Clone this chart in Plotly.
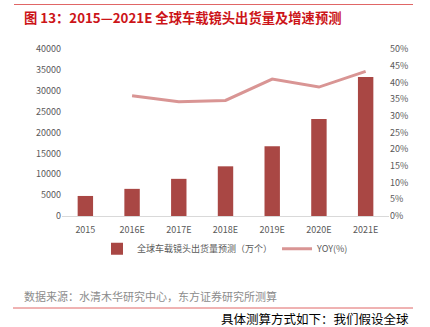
import plotly.graph_objects as go

categories = ["2015", "2016E", "2017E", "2018E", "2019E", "2020E", "2021E"]
shipments = [4800, 6500, 8900, 11900, 16700, 23250, 33300]
yoy_cats = ["2016E", "2017E", "2018E", "2019E", "2020E", "2021E"]
yoy = [36.0, 34.2, 34.6, 41.0, 38.6, 43.3]
left_ticks = [0, 5000, 10000, 15000, 20000, 25000, 30000, 35000, 40000]
right_ticks = [0, 5, 10, 15, 20, 25, 30, 35, 40, 45, 50]

BAR = "#A94744"
LINE = "#D99594"
FONT = "Noto Sans CJK SC"

fig = go.Figure()
fig.add_trace(go.Bar(x=categories, y=shipments, name="全球车载镜头出货量预测（万个）",
                     marker=dict(color=BAR, line=dict(width=0)), yaxis="y"))
fig.add_trace(go.Scatter(x=yoy_cats, y=yoy, name="YOY(%)", mode="lines",
                         line=dict(color=LINE, width=3), yaxis="y2"))

fig.update_layout(
    width=430, height=327,
    margin=dict(l=62, r=41, t=49, b=111),
    paper_bgcolor="white", plot_bgcolor="white",
    font=dict(family=FONT, size=9, color="#595959"),
    bargap=0.67,
    showlegend=True,
    legend=dict(orientation="h", x=0.5, xanchor="center", y=-0.11, yanchor="top",
                font=dict(size=9, color="#595959"), itemwidth=30, traceorder="normal"),
    xaxis=dict(type="category", showline=True, linecolor="#D9D9D9", linewidth=1,
               ticks="", showgrid=False, ticklabelstandoff=5,
               tickfont=dict(size=9, color="#595959")),
    yaxis=dict(range=[0, 40000], tickvals=left_ticks, ticktext=[str(v) for v in left_ticks],
               showgrid=False, zeroline=False,
               showline=False, ticks="", tickfont=dict(size=9, color="#595959")),
    yaxis2=dict(range=[0, 50], tickvals=right_ticks, ticktext=[f"{v}%" for v in right_ticks],
                overlaying="y", side="right", showgrid=False, zeroline=False,
                showline=False, ticks="", tickfont=dict(size=9, color="#595959")),
)

# decorative lines in pixel-derived paper coordinates
pw, ph = 327.0, 167.0
def px(x):
    return (x - 62) / pw
def py(y):
    return (216 - y) / ph

fig.add_shape(type="line", xref="paper", yref="paper", x0=px(14), x1=px(413),
              y0=py(4.5), y1=py(4.5), line=dict(color="#E06666", width=1))
fig.add_shape(type="line", xref="paper", yref="paper", x0=px(13), x1=px(413),
              y0=py(308), y1=py(308), line=dict(color="#E06666", width=1))

fig.add_annotation(text="<b>图 13：2015—2021E 全球车载镜头出货量及增速预测</b>",
                   xref="paper", yref="paper", x=px(22), y=py(17.5),
                   xanchor="left", yanchor="middle", showarrow=False,
                   font=dict(family=FONT, size=13.3, color="#CC1418"))
fig.add_annotation(text="数据来源：水清木华研究中心，东方证券研究所测算",
                   xref="paper", yref="paper", x=px(22), y=py(296),
                   xanchor="left", yanchor="middle", showarrow=False,
                   font=dict(family=FONT, size=11, color="#8C8C8C"))
fig.add_annotation(text="具体测算方式如下：我们假设全球",
                   xref="paper", yref="paper", x=px(219), y=py(318),
                   xanchor="left", yanchor="middle", showarrow=False,
                   font=dict(family=FONT, size=12.5, color="#000000"))

fig.write_html("out.html")
